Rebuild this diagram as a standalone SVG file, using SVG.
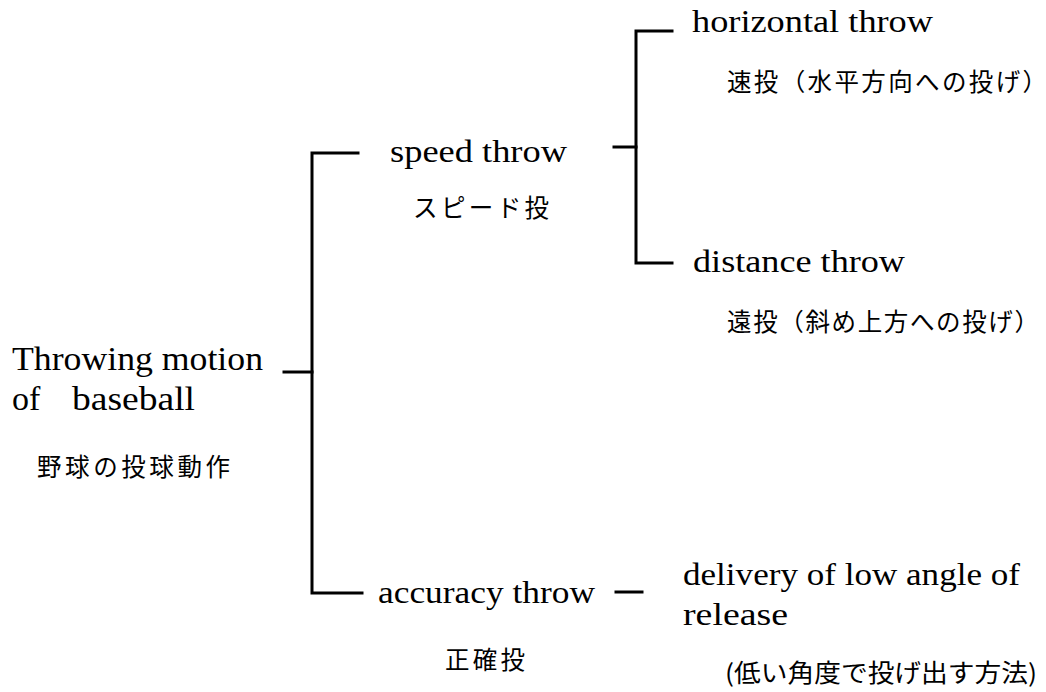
<svg xmlns="http://www.w3.org/2000/svg" width="1046" height="692" viewBox="0 0 1046 692">
<style>
.en{font-family:"Liberation Serif","DejaVu Serif",serif;font-size:32px;fill:#000}
.root{font-size:34px}
.ja{font-family:"Noto Sans CJK JP","Noto Sans",sans-serif;font-size:24.5px;fill:#000}
.ln{fill:none;stroke:#000;stroke-width:3;stroke-linecap:square}
</style>
<rect width="1046" height="692" fill="#fff"/>
<g id="connectors">
<path class="ln" d="M284,372 H312"/>
<path class="ln" d="M358,153 H312 V593 H362"/>
<path class="ln" d="M614,147 H636"/>
<path class="ln" d="M672,31 H636 V263 H672"/>
<path class="ln" d="M616,592 H642"/>
</g>
<g id="root">
<text class="en root" x="12" y="370" textLength="251" lengthAdjust="spacingAndGlyphs">Throwing motion</text>
<text class="en root" x="12" y="410">of</text>
<text class="en root" x="72" y="410" textLength="123" lengthAdjust="spacingAndGlyphs">baseball</text>
<text class="ja" x="37" y="476" textLength="193" lengthAdjust="spacing">野球の投球動作</text>
</g>
<g id="speed">
<text class="en" x="390" y="162" textLength="177" lengthAdjust="spacingAndGlyphs">speed throw</text>
<text class="ja" x="413" y="217" textLength="136" lengthAdjust="spacing">スピード投</text>
</g>
<g id="horizontal">
<text class="en" x="692" y="32" textLength="241" lengthAdjust="spacingAndGlyphs">horizontal throw</text>
<text class="ja" x="727" y="91" textLength="320" lengthAdjust="spacing">速投（水平方向への投げ）</text>
</g>
<g id="distance">
<text class="en" x="693" y="272" textLength="212" lengthAdjust="spacingAndGlyphs">distance throw</text>
<text class="ja" x="727" y="331" textLength="312" lengthAdjust="spacing">遠投（斜め上方への投げ）</text>
</g>
<g id="accuracy">
<text class="en" x="378" y="603" textLength="217" lengthAdjust="spacingAndGlyphs">accuracy throw</text>
<text class="ja" x="445" y="669" textLength="80" lengthAdjust="spacing">正確投</text>
</g>
<g id="delivery">
<text class="en" x="683" y="585" textLength="337" lengthAdjust="spacingAndGlyphs">delivery of low angle of</text>
<text class="en" x="683" y="625" textLength="105" lengthAdjust="spacingAndGlyphs">release</text>
<text class="ja" x="725" y="682" textLength="312" lengthAdjust="spacingAndGlyphs">(低い角度で投げ出す方法)</text>
</g>
</svg>
